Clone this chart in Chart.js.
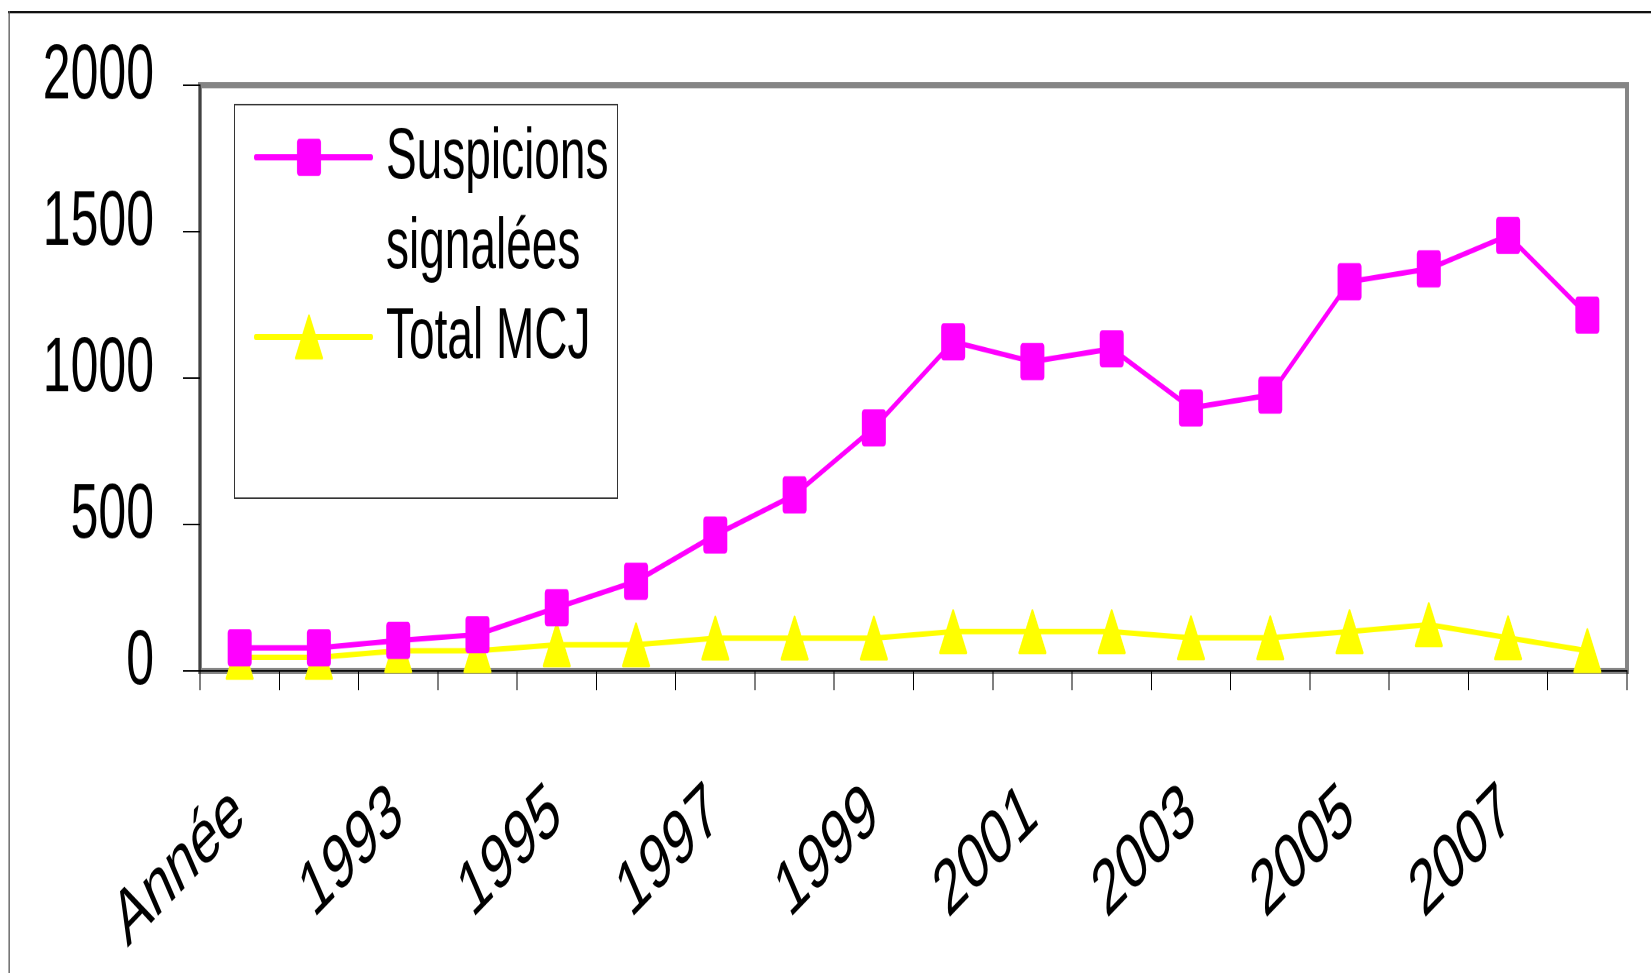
<!DOCTYPE html>
<html lang="fr">
<head>
<meta charset="utf-8">
<title>Suspicions signalées et Total MCJ</title>
<script src="https://cdn.jsdelivr.net/npm/chart.js@4.4.1/dist/chart.umd.min.js"></script>
<style>
  html, body { margin:0; padding:0; background:#fff; overflow:hidden; }
  /* the reference picture is stretched vertically: draw at 628px tall, stretch to 973 */
  #wrap { position:absolute; left:0; top:0; width:1651px; height:628px; transform-origin:0 0; transform:scaleY(1.5494); }
</style>
</head>
<body>
<div id="wrap"><canvas id="c"></canvas></div>
<script>
  // ---- data ----
  const annees = ["Année","1992","1993","1994","1995","1996","1997","1998","1999","2000","2001","2002","2003","2004","2005","2006","2007","2008"];
  const suspicions = [79, 79, 104, 124, 216, 306, 464, 601, 830, 1124, 1056, 1100, 898, 942, 1329, 1373, 1487, 1215];
  const totalMcj   = [46, 46, 69, 69, 89, 89, 112, 112, 112, 134, 134, 134, 113, 113, 134, 158, 113, 69];
  const yTicks = [0, 500, 1000, 1500, 2000];
  const seriesNames = ["Suspicions signalées", "Total MCJ"];

  const FONT = "'Liberation Sans', Arial, sans-serif";
  const MAGENTA = "#ff00ff", JAUNE = "#ffff00";

  // markers drawn once on a small hi-res canvas, used as Chart.js pointStyle images
  function makeMarker(w, h, drawFn){
    const k = 3;
    const cv = document.createElement("canvas");
    cv.width = w*k; cv.height = h*k;
    const ctx = cv.getContext("2d");
    ctx.scale(k, k);
    drawFn(ctx, w, h);
    const img = new Image(w, h);
    img.src = cv.toDataURL();
    return img;
  }
  const carre = makeMarker(25, 25, (ctx, w, h) => {
    ctx.fillStyle = MAGENTA;
    ctx.beginPath(); ctx.roundRect(0.5, 0.5, w-1, h-1, 2.5); ctx.fill();
  });
  const triangle = makeMarker(29, 30, (ctx, w, h) => {
    ctx.fillStyle = JAUNE; ctx.strokeStyle = JAUNE; ctx.lineWidth = 2; ctx.lineJoin = "round";
    ctx.beginPath(); ctx.moveTo(w/2, 1.5); ctx.lineTo(w-1.5, h-1.5); ctx.lineTo(1.5, h-1.5); ctx.closePath();
    ctx.fill(); ctx.stroke();
  });

  // outer frame + grey plot-area border (under the axes)
  const framePlugin = {
    id: "frame",
    beforeDraw(chart){
      const {ctx, chartArea:a} = chart;
      ctx.save();
      ctx.fillStyle = "#111";
      ctx.fillRect(8, 7, chart.width, 1.6);
      ctx.fillStyle = "#555";
      ctx.fillRect(8.5, 7, 1.3, chart.height);
      ctx.strokeStyle = "#858585"; ctx.lineWidth = 4;
      ctx.strokeRect(a.left, a.top, a.right - a.left, a.bottom - a.top);
      ctx.restore();
    }
  };

  function wrapText(ctx, text, maxW){
    const words = text.split(" "), lines = [];
    let cur = "";
    for(const w of words){
      const t = cur ? cur + " " + w : w;
      if(cur && ctx.measureText(t).width > maxW){ lines.push(cur); cur = w; } else cur = t;
    }
    lines.push(cur);
    return lines;
  }

  // legend box inside the plot, top-left
  const legendPlugin = {
    id: "legendeBoite",
    afterDatasetsDraw(chart){
      const ctx = chart.ctx;
      const box = { x:234, y:67, w:383, h:254 };
      ctx.save();
      ctx.fillStyle = "#fff"; ctx.fillRect(box.x, box.y, box.w, box.h);
      ctx.strokeStyle = "#333"; ctx.lineWidth = 1;
      ctx.strokeRect(box.x + 0.5, box.y + 0.5, box.w, box.h);
      ctx.font = "46px " + FONT;
      ctx.fillStyle = "#000"; ctx.textBaseline = "alphabetic"; ctx.textAlign = "left";
      let base = 115;
      chart.data.datasets.forEach(ds => {
        const midY = base - 13.5;
        ctx.strokeStyle = ds.borderColor; ctx.lineWidth = 4; ctx.lineCap = "round";
        ctx.beginPath(); ctx.moveTo(256, midY); ctx.lineTo(371, midY); ctx.stroke();
        const img = ds.pointStyle;
        ctx.drawImage(img, 309 - img.width/2, midY - img.height/2, img.width, img.height);
        const lines = wrapText(ctx, ds.label, 225);
        lines.forEach(l => { ctx.fillText(l, 386, base); base += 58; });
      });
      ctx.restore();
    }
  };

  // keep the plot area where the layout padding puts it (labels may overhang)
  function noPadding(s){ s.paddingTop = 0; s.paddingBottom = 0; s.paddingLeft = 0; s.paddingRight = 0; }

  Promise.all([carre.decode(), triangle.decode()]).then(() => {
    new Chart(document.getElementById("c"), {
      type: "line",
      data: {
        labels: annees,
        datasets: [
          { label: seriesNames[0], data: suspicions, borderColor: MAGENTA, backgroundColor: MAGENTA, borderWidth: 3.5,
            pointStyle: carre, pointRadius: 13, pointHoverRadius: 13, tension: 0, clip: false },
          { label: seriesNames[1], data: totalMcj, borderColor: JAUNE, backgroundColor: JAUNE, borderWidth: 3.5,
            pointStyle: triangle, pointRadius: 14, pointHoverRadius: 14, tension: 0, clip: false }
        ]
      },
      options: {
        responsive: true, maintainAspectRatio: false, animation: false, devicePixelRatio: 2,
        events: [],
        layout: { padding: { top: 55, right: 24, left: 0, bottom: 0 } },
        plugins: { legend: { display: false }, tooltip: { enabled: false } },
        scales: {
          x: {
            offset: true,
            grid: { offset: true, drawOnChartArea: false, tickLength: 12.5, color: "#000", lineWidth: 1 },
            border: { display: true, color: "#000", width: 1 },
            ticks: {
              autoSkip: false, minRotation: 34, maxRotation: 34, padding: 49, color: "#000",
              font: { family: FONT, size: 50 },
              callback: (v, i) => i % 2 === 0 ? annees[i] : ""
            },
            afterFit: s => { s.height = 628 - 433; noPadding(s); }
          },
          y: {
            min: yTicks[0], max: yTicks[yTicks.length-1],
            grid: { drawOnChartArea: false, tickLength: 17, color: "#000", lineWidth: 1 },
            border: { display: true, color: "#000", width: 1 },
            ticks: { stepSize: yTicks[1] - yTicks[0], padding: 29, labelOffset: -5.5, color: "#000",
                     font: { family: FONT, size: 50 }, callback: v => String(v) },
            afterFit: s => { s.width = 200; noPadding(s); }
          }
        }
      },
      plugins: [framePlugin, legendPlugin]
    });
  });
</script>
</body>
</html>
